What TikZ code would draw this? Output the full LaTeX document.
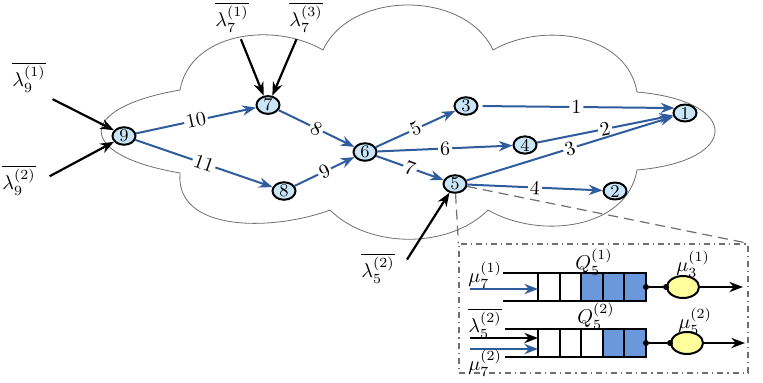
\documentclass[tikz,border=0pt]{standalone}
\usetikzlibrary{arrows.meta,positioning,shapes.geometric}
\definecolor{netBlue}{HTML}{2F5C9C}
\definecolor{netNode}{HTML}{C8E6F8}
\definecolor{netCell}{HTML}{6A98DA}
\definecolor{netServer}{HTML}{FFFF9C}
\definecolor{netGray}{HTML}{6F6F6F}
\tikzset{
  net node/.style={ellipse, draw=black, line width=1pt, fill=netNode,
    inner sep=0pt, minimum width=11.5pt, minimum height=8pt, font=\small},
  net edge/.style={-{Stealth[length=2.4mm,width=1.8mm]},
    draw=netBlue, line width=1pt},
  net label/.style={fill=white, inner sep=1pt, sloped},
  ext arrow/.style={-{Stealth[length=2.4mm,width=1.8mm]},
    draw=black, line width=1.1pt},
  cloud line/.style={draw=netGray, line width=0.4pt},
  zoom line/.style={draw=netGray, line width=0.6pt, dash pattern=on 5pt off 3pt},
  inset frame/.style={draw=netGray, line width=0.6pt, dash dot,
    inner sep=0pt, minimum width=144.5pt, minimum height=64.5pt},
  queue line/.style={draw=black, line width=1pt},
  server/.style={ellipse, draw=black, line width=1pt, fill=netServer,
    inner sep=0pt, minimum width=16pt, minimum height=11pt},
  tap/.style={circle, fill=black, inner sep=0pt, minimum size=3pt}
}
\begin{document}
\begin{tikzpicture}[x=0.5pt,y=0.5pt]
  \useasboundingbox (0,0) rectangle (763,382);
  % cloud
  \draw[cloud line] (180,292) .. controls (190,349) and (273,361) .. (323,332)
    .. controls (351,392) and (465,392) .. (493,332)
    .. controls (544,361) and (627,348) .. (637,290)
    .. controls (741,281) and (741,221) .. (637,212)
    .. controls (627,153) and (540,142) .. (488,172)
    .. controls (449,133) and (369,133) .. (330,172)
    .. controls (274,151) and (175,149) .. (180,209)
    .. controls (75,227) and (75,274) .. cycle;
  % network
  \node[net node] (n9) at (124,246) {9};
  \node[net node] (n7) at (268,277) {7};
  \node[net node] (n8) at (284,191) {8};
  \node[net node] (n6) at (365,230) {6};
  \node[net node] (n3) at (466,276) {3};
  \node[net node] (n4) at (525,237) {4};
  \node[net node] (n5) at (455,198) {5};
  \node[net node] (n2) at (615,191) {2};
  \node[net node] (n1) at (685,269) {1};
  \draw[net edge] (n9) -- node[net label] {10} (n7);
  \draw[net edge] (n9) -- node[net label] {11} (n8);
  \draw[net edge] (n7) -- node[net label] {8} (n6);
  \draw[net edge] (n8) -- node[net label] {9} (n6);
  \draw[net edge] (n6) -- node[net label] {5} (n3);
  \draw[net edge] (n6) -- node[net label] {6} (n4);
  \draw[net edge] (n6) -- node[net label] {7} (n5);
  \draw[net edge, shorten <=2pt] (n3.east) -- node[net label] {1} (n1.155);
  \draw[net edge] (n4) -- node[net label] {2} (n1);
  \draw[net edge] (n5) -- node[net label] {3} (n1);
  \draw[net edge] (n5) -- node[net label] {4} (n2);
  % external arrivals
  \node (lam91) at (29,305) {$\overline{\lambda_9^{(1)}}$};
  \node (lam92) at (19,202) {$\overline{\lambda_9^{(2)}}$};
  \node (lam71) at (232,365) {$\overline{\lambda_7^{(1)}}$};
  \node (lam73) at (306,365) {$\overline{\lambda_7^{(3)}}$};
  \node (lam52) at (378,114) {$\overline{\lambda_5^{(2)}}$};
  \draw[ext arrow] (lam91.south east) -- (n9.150);
  \draw[ext arrow, shorten <=4pt] (lam92.east) -- (n9.210);
  \draw[ext arrow] (lam71) -- (n7.115);
  \draw[ext arrow] (lam73) -- (n7.65);
  \draw[ext arrow, shorten <=5pt] (lam52.east) -- (n5);
  % zoom on node 5
  \node[inset frame] (inset) at (603.5,73.5) {};
  \draw[zoom line] (n5) -- (inset.north west);
  \draw[zoom line] (n5) -- (inset.north east);
  % queue 1
  \foreach \i/\c in {0/white,1/white,2/netCell,3/netCell,4/netCell}
    \draw[queue line, fill=\c] ({538+21.6*\i},81) rectangle ++(21.6,28);
  \draw[queue line] (503,109) -- (538,109);
  \draw[queue line] (503,81) -- (538,81);
  \coordinate (q1in) at (538,93);
  \coordinate (a1) at (470,93);
  \draw[net edge] (a1) -- (q1in);
  \node (mu71) at (485,107) {$\mu_7^{(1)}$};
  \node (Q51) at (594,120) {$Q_5^{(1)}$};
  \node[tap] (t1) at (646,95) {};
  \node[server] (s1) at (683,95) {};
  \node[tap] (t1b) at (s1.west) {};
  \draw[queue line] (t1) -- (t1b);
  \coordinate (o1) at (743,95);
  \draw[ext arrow, line width=1pt] (s1) -- (o1);
  \node (mu31) at (693,118) {$\mu_3^{(1)}$};
  % queue 2
  \foreach \i/\c in {0/white,1/white,2/white,3/netCell,4/netCell}
    \draw[queue line, fill=\c] ({538+21.6*\i},25) rectangle ++(21.6,28);
  \draw[queue line] (505,53) -- (538,53);
  \draw[queue line] (505,25) -- (538,25);
  \coordinate (q2a) at (538,44);
  \coordinate (q2b) at (538,33);
  \coordinate (a2) at (470,44);
  \coordinate (a3) at (470,33);
  \draw[ext arrow, line width=1pt] (a2) -- (q2a);
  \draw[net edge] (a3) -- (q2b);
  \node (lam52q) at (485,59) {$\overline{\lambda_5^{(2)}}$};
  \node (mu72) at (485,19) {$\mu_7^{(2)}$};
  \node (Q52) at (596,66) {$Q_5^{(2)}$};
  \node[tap] (t2) at (646,39) {};
  \node[server] (s2) at (687,39) {};
  \node[tap] (t2b) at (s2.west) {};
  \draw[queue line] (t2) -- (t2b);
  \coordinate (o2) at (745,39);
  \draw[ext arrow, line width=1pt] (s2) -- (o2);
  \node (mu52) at (695,61) {$\mu_5^{(2)}$};
\end{tikzpicture}
\end{document}
